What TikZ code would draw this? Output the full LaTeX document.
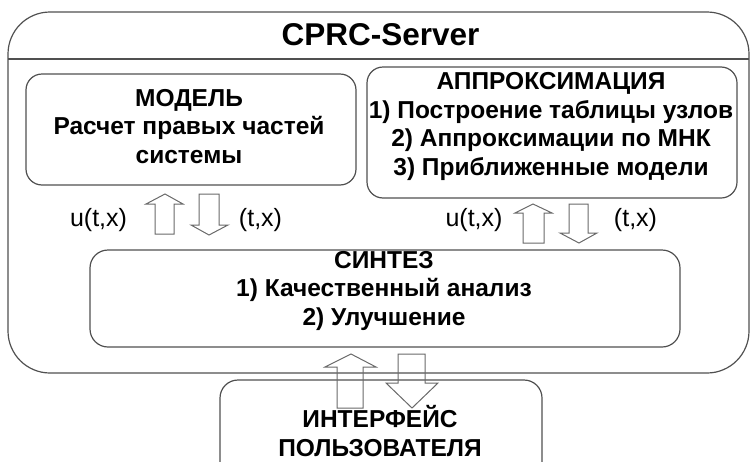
\documentclass[tikz,border=0pt]{standalone}
\usepackage{fontspec}
\setmainfont{Liberation Sans}
\definecolor{boxline}{RGB}{80,80,80}
\definecolor{arrline}{RGB}{105,105,105}
\begin{document}
\begin{tikzpicture}[x=1pt,y=-1pt,
  frame/.style={draw=boxline,line width=1.2pt},
  blk/.style={draw=boxline,line width=1.2pt,rounded corners=16pt},
  fat/.style={draw=arrline,line width=1pt,line join=miter},
  btxt/.style={font=\fontsize{24.5}{28.5}\selectfont\bfseries,align=center,inner sep=0pt,anchor=base},
  lbl/.style={font=\fontsize{25}{28}\selectfont,inner sep=0pt,anchor=center}]
\useasboundingbox (0,0) rectangle (750,461);
\begin{scope}
\clip (0,0) rectangle (750,461);
% outer server frame
\draw[frame,rounded corners=42pt] (8,12) rectangle (749,373);
\coordinate (divL) at (8,59);
\coordinate (divR) at (749,59);
\draw[frame] (divL) -- (divR);
\node[font=\fontsize{31.5}{36}\selectfont\bfseries,inner sep=0pt,anchor=base] (title) at (380.5,45) {CPRC-Server};
% boxes
\draw[blk] (26,74) rectangle (356,185);
\draw[blk] (367,67) rectangle (737,198);
\draw[blk,rounded corners=18pt] (90,250) rectangle (680,347);
\draw[blk,rounded corners=18pt] (220,380) rectangle (542,500);
% texts (base anchor = baseline of the last line)
\node[btxt] (model) at (189,163) {МОДЕЛЬ\\Расчет правых частей\\системы};
\node[btxt] (approx) at (551,175) {АППРОКСИМАЦИЯ\\1) Построение таблицы узлов\\2) Аппроксимации по МНК\\3) Приближенные модели};
\node[btxt] (synth) at (384,325) {СИНТЕЗ\\1) Качественный анализ\\2) Улучшение};
\node[btxt] (iface) at (380,456) {ИНТЕРФЕЙС\\ПОЛЬЗОВАТЕЛЯ};
% labels
\node[lbl] (l1) at (98.5,220) {u(t,x)};
\node[lbl] (l2) at (260.5,220) {(t,x)};
\node[lbl] (l3) at (474,220) {u(t,x)};
\node[lbl] (l4) at (635.5,220) {(t,x)};
% block arrows (model <-> synthesis)
\draw[fat] (165,194) -- (183,204) -- (174,204) -- (174,234) -- (155,234) -- (155,204) -- (146,204) -- cycle;
\draw[fat] (209,235) -- (228,225) -- (219,225) -- (219,194) -- (199,194) -- (199,225) -- (191,225) -- cycle;
% block arrows (approx <-> synthesis)
\draw[fat] (533,204) -- (552,213) -- (544,213) -- (544,243) -- (523,243) -- (523,213) -- (515,213) -- cycle;
\draw[fat] (579,243) -- (597,233) -- (588,233) -- (588,204) -- (569,204) -- (569,233) -- (560,233) -- cycle;
% block arrows (synthesis <-> interface)
\draw[fat] (351,354) -- (376,367) -- (363,367) -- (363,408) -- (337,408) -- (337,367) -- (325,367) -- cycle;
\draw[fat] (412,408) -- (438,383) -- (425,383) -- (425,354) -- (398,354) -- (398,383) -- (386,383) -- cycle;
\end{scope}
\end{tikzpicture}
\end{document}
